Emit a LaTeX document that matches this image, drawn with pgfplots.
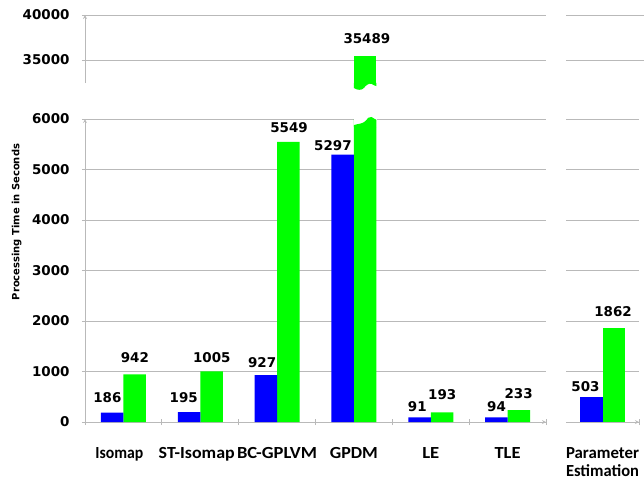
\documentclass[border=0pt]{standalone}
\usepackage{fontspec}
\setmainfont{DejaVu Sans}
\newfontfamily\carl{Carlito}
\usepackage{graphicx}
\usepackage{pgfplots}
\usepackage{pgfplotstable}
\pgfplotsset{compat=1.18}
\definecolor{cblue}{RGB}{0,0,255}
\definecolor{cgreen}{RGB}{0,255,0}
\definecolor{gridgray}{RGB}{185,185,185}
\newcommand{\cl}[2]{\resizebox{#1bp}{\height}{#2}}

% dx = horizontal label offset from the category centre (bp), dy = gap bar top -> baseline (bp)
\pgfplotstableread{
x y lab dx dy
0 186 186 -16 10
1 195 195 -16.5 10
2 927 927 -15 8
3 5297 5297 -21 4
4 91 91 -13.5 6
5 94 94 -11 6
}\blueMain
\pgfplotstableread{
x y lab dx dy
0 942 942 11.5 12
1 1005 1005 11.5 9
2 5549 5549 12 9
3 35489 {} 0 0
4 193 193 11.5 13
5 233 233 11 12
}\greenMain
\pgfplotstableread{
x y lab dx dy
3 35489 35489 13 12
}\greenTop
\pgfplotstableread{
x y lab dx dy
0 503 503 -17 5
}\blueRight
\pgfplotstableread{
x y lab dx dy
0 1862 1862 10.5 11
}\greenRight

\pgfplotsset{
  base/.style={
    scale only axis,
    clip mode=individual,
    axis line style={-, draw=gridgray, line width=0.8bp},
    ymajorgrids, grid style={draw=gridgray, line width=0.8bp},
    tick style={draw=gridgray, line width=0.8bp},
    tick align=outside,
    major tick length=6bp, minor tick length=6bp,
    scaled y ticks=false,
    /pgf/number format/assume math mode=true,
    /pgf/number format/1000 sep={},
    yticklabel style={font=\bfseries\fontsize{13.5}{15}\selectfont, xshift=-9bp},
    xticklabel style={font=\carl\bfseries\fontsize{17}{18.5}\selectfont, anchor=north, inner sep=0pt, yshift=-22bp, align=center},
    major x tick style={draw=none},
  },
  bars/.style={
    ybar, bar width=22.5bp, draw=none,
    nodes near coords, point meta=explicit symbolic,
    visualization depends on={\thisrow{dx} \as \labdx},
    visualization depends on={\thisrow{dy} \as \labdy},
    every node near coord/.append style={anchor=base, inner sep=0pt,
      xshift=\labdx*1bp, yshift=\labdy*1bp, text=black,
      font=\bfseries\fontsize{13.5}{15}\selectfont},
  },
}

\begin{document}
\begin{tikzpicture}
\useasboundingbox (0,0) rectangle (644bp,-483bp);

% main lower panel
\begin{axis}[base,
  at={(85bp,-422bp)}, anchor=south west,
  width=461bp, height=303bp,
  xmin=-0.5, xmax=5.5, ymin=0, ymax=6000,
  axis x line=bottom, axis y line=left,
  ytick={0,1000,...,6000},
  xtick={0,...,5},
  xticklabels={{\cl{48}{Isomap}\hspace*{8bp}},{\cl{76}{ST-Isomap}\hspace*{7bp}},{\cl{80}{BC-GPLVM}},{\cl{48}{GPDM}},{\cl{17}{LE}},{\cl{26}{TLE}}},
  minor xtick={-0.5,0.5,...,5.5},
  ylabel={Processing Time in Seconds},
  ylabel style={at={(rel axis cs:-0.148,0.66)}, anchor=center,
    font=\bfseries\fontsize{10}{12}\selectfont},
]
\addplot[bars, fill=cgreen, bar shift=11.25bp] table[x=x, y=y, meta=lab]{\greenMain};
\addplot[bars, fill=cblue, bar shift=-11.25bp] table[x=x, y=y, meta=lab]{\blueMain};
% break of the GPDM bar
\fill[white] (axis cs:3,5850) rectangle (axis cs:3.3,6150);
\fill[cgreen] (axis cs:3,5840) -- (axis cs:3,5880)
  .. controls (axis cs:3.06,5910) and (axis cs:3.11,5900) .. (axis cs:3.15,5960)
  .. controls (axis cs:3.18,6010) and (axis cs:3.2,6060) .. (axis cs:3.23,6040)
  .. controls (axis cs:3.26,6010) and (axis cs:3.28,5990) .. (axis cs:3.293,5985)
  -- (axis cs:3.293,5840) -- cycle;
\end{axis}

% main upper panel
\begin{axis}[base,
  at={(85bp,-83bp)}, anchor=south west,
  width=461bp, height=68bp,
  xmin=-0.5, xmax=5.5, ymin=32450, ymax=40000,
  axis x line=none, axis y line=left,
  ytick={35000,40000},
]
\addplot[bars, fill=cgreen, bar shift=11.25bp] table[x=x, y=y, meta=lab]{\greenTop};
\fill[cgreen] (axis cs:3,32460) -- (axis cs:3,31890)
  .. controls (axis cs:3.04,31650) and (axis cs:3.1,31600) .. (axis cs:3.13,31900)
  .. controls (axis cs:3.16,32250) and (axis cs:3.2,32450) .. (axis cs:3.23,32350)
  .. controls (axis cs:3.26,32200) and (axis cs:3.28,32110) .. (axis cs:3.293,32110)
  -- (axis cs:3.293,32460) -- cycle;
\end{axis}

% right lower panel
\begin{axis}[base,
  at={(566bp,-422bp)}, anchor=south west,
  width=73bp, height=303bp,
  xmin=-0.5, xmax=0.5, ymin=0, ymax=6000,
  axis x line=bottom, axis y line=left,
  y axis line style={draw=none},
  major y tick style={draw=none},
  ytick={0,1000,...,6000}, yticklabels={},
  xtick={0}, xticklabels={{\cl{73}{Parameter}\\\cl{73}{Estimation}}},
  minor xtick={0.5},
]
\addplot[bars, fill=cgreen, bar shift=11.25bp] table[x=x, y=y, meta=lab]{\greenRight};
\addplot[bars, fill=cblue, bar shift=-11.25bp] table[x=x, y=y, meta=lab]{\blueRight};
\end{axis}

% right upper panel
\begin{axis}[base,
  at={(566bp,-83bp)}, anchor=south west,
  width=78bp, height=68bp,
  xmin=-0.5, xmax=0.5, ymin=32450, ymax=40000,
  axis x line=none, axis y line=left,
  y axis line style={draw=none},
  major y tick style={draw=none},
  ytick={35000,40000}, yticklabels={},
]
\end{axis}
\end{tikzpicture}
\end{document}
